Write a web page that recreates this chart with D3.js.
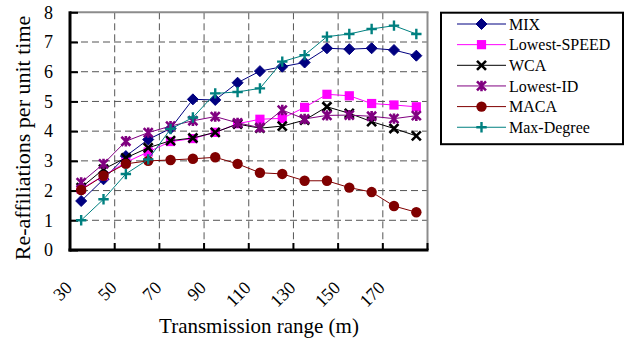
<!DOCTYPE html>
<html>
<head>
<meta charset="utf-8">
<script src="https://cdn.jsdelivr.net/npm/d3@7"></script>
<style>
  html, body { margin: 0; padding: 0; background: #fff; }
  svg text { font-family: 'Liberation Serif', serif; }
</style>
</head>
<body>
<svg id="chart" width="631" height="345"></svg>
<script>
// ---- data ----
const categories = [30, 40, 50, 60, 70, 80, 90, 100, 110, 120, 130, 140, 150, 160, 170, 180];
const tickLabels = [30, 50, 70, 90, 110, 130, 150, 170];
const yTicks = [0, 1, 2, 3, 4, 5, 6, 7, 8];
const seriesNames = ["MIX", "Lowest-SPEED", "WCA", "Lowest-ID", "MACA", "Max-Degree"];
const mix        = [1.65, 2.38, 3.16, 3.72, 4.09, 5.07, 5.05, 5.63, 6.02, 6.17, 6.31, 6.79, 6.76, 6.79, 6.73, 6.54];
const lowestSpeed= [2.05, 2.50, 2.95, 3.30, 3.65, 3.75, 3.96, 4.25, 4.40, 4.43, 4.80, 5.24, 5.19, 4.93, 4.88, 4.82];
const wca        = [2.10, 2.72, 3.10, 3.44, 3.68, 3.77, 3.96, 4.24, 4.10, 4.17, 4.37, 4.82, 4.60, 4.32, 4.09, 3.84];
const lowestId   = [2.27, 2.90, 3.66, 3.95, 4.17, 4.35, 4.49, 4.28, 4.12, 4.71, 4.41, 4.53, 4.54, 4.50, 4.42, 4.52];
const maca       = [2.02, 2.50, 2.90, 3.00, 3.03, 3.07, 3.12, 2.90, 2.60, 2.56, 2.33, 2.33, 2.10, 1.95, 1.48, 1.27];
const maxDegree  = [1.00, 1.71, 2.56, 3.05, 4.07, 4.46, 5.27, 5.32, 5.44, 6.34, 6.56, 7.18, 7.27, 7.44, 7.55, 7.27];

const seriesValues = [mix, lowestSpeed, wca, lowestId, maca, maxDegree];
const colors  = ["#000080", "#FF00FF", "#000000", "#800080", "#800000", "#008080"];
const markers = ["diamond", "square", "x", "star", "circle", "plus"];

const FONT = "'Liberation Serif', serif";

// ---- layout ----
const svg = d3.select("#chart");
const L = 70, R = 427.5, T = 12.3, B = 250;

const x = d3.scaleBand().domain(categories).range([L, R]).padding(0);
const y = d3.scaleLinear().domain([0, 8]).range([B, T]);

// gridlines
const grid = svg.append("g");
grid.selectAll("line.h").data(yTicks.filter(v => v > 0 && v < 8)).join("line")
  .attr("x1", L).attr("x2", R)
  .attr("y1", d => y(d)).attr("y2", d => y(d))
  .attr("stroke", "#555").attr("stroke-width", 1).attr("stroke-dasharray", "7,4");
const vIdx = d3.range(2, categories.length, 2);
grid.selectAll("line.v").data(vIdx).join("line")
  .attr("x1", d => x(categories[d])).attr("x2", d => x(categories[d]))
  .attr("y1", T).attr("y2", B)
  .attr("stroke", "#555").attr("stroke-width", 1).attr("stroke-dasharray", "7,4");

// plot border (top/right gray)
svg.append("line").attr("x1", L).attr("x2", R + 1).attr("y1", T).attr("y2", T)
  .attr("stroke", "#8c8c8c").attr("stroke-width", 2);
svg.append("line").attr("x1", R).attr("x2", R).attr("y1", T).attr("y2", B)
  .attr("stroke", "#8c8c8c").attr("stroke-width", 2);

// y axis
const yAxis = d3.axisLeft(y).tickValues(yTicks).tickSize(-8).tickPadding(17).tickFormat(d3.format("d"));
const gy = svg.append("g").attr("transform", `translate(${L},0)`).call(yAxis)
  .attr("font-family", FONT).attr("font-size", 18);
gy.select(".domain").remove();
gy.selectAll(".tick line").attr("stroke", "#000").attr("stroke-width", 2);
gy.selectAll(".tick text").attr("fill", "#000").style("font-family", FONT).style("font-size", "18px");
svg.append("line").attr("x1", L).attr("x2", L).attr("y1", T - 1).attr("y2", B + 1.5)
  .attr("stroke", "#000").attr("stroke-width", 3);

// x axis
const xAxis = d3.axisBottom(x).tickValues(tickLabels).tickSize(0).tickPadding(0);
const gx = svg.append("g").attr("transform", `translate(0,${B})`).call(xAxis)
  .attr("font-family", FONT).attr("font-size", 18);
gx.select(".domain").remove();
gx.selectAll(".tick text")
  .attr("fill", "#000").style("font-family", FONT).style("font-size", "18px")
  .attr("text-anchor", "end").attr("dy", null).attr("y", null)
  .attr("transform", "translate(-8,39) rotate(-45)");
svg.append("line").attr("x1", L - 1.5).attr("x2", R + 1).attr("y1", B).attr("y2", B)
  .attr("stroke", "#000").attr("stroke-width", 3);
const xTickPos = vIdx.map(i => x(categories[i])).concat([R]);
svg.append("g").selectAll("line").data(xTickPos).join("line")
  .attr("x1", d => d).attr("x2", d => d).attr("y1", B).attr("y2", B - 7)
  .attr("stroke", "#000").attr("stroke-width", 2);

// axis titles
svg.append("text").attr("x", 259).attr("y", 333).attr("text-anchor", "middle")
  .style("font-family", FONT).style("font-size", "21px").text("Transmission range (m)");
svg.append("text").attr("transform", "translate(30,138) rotate(-90)").attr("text-anchor", "middle")
  .style("font-family", FONT).style("font-size", "22px").text("Re-affiliations per unit time");

// marker drawing
function drawMarker(g, type, color) {
  const s = 4.5;
  if (type === "diamond") {
    g.append("path").attr("d", `M0,${-5.5}L5.5,0L0,5.5L-5.5,0Z`).attr("fill", color).attr("stroke", color);
  } else if (type === "square") {
    g.append("rect").attr("x", -4.6).attr("y", -4.6).attr("width", 9.2).attr("height", 9.2).attr("fill", color);
  } else if (type === "x") {
    g.append("path").attr("d", `M${-s},${-s}L${s},${s}M${-s},${s}L${s},${-s}`)
      .attr("stroke", color).attr("stroke-width", 2.6).attr("fill", "none");
  } else if (type === "star") {
    g.append("path").attr("d", `M${-s},${-s}L${s},${s}M${-s},${s}L${s},${-s}M0,${-5.2}L0,5.2`)
      .attr("stroke", color).attr("stroke-width", 2.6).attr("fill", "none");
  } else if (type === "circle") {
    g.append("circle").attr("r", 5.2).attr("fill", color);
  } else if (type === "plus") {
    g.append("path").attr("d", `M-5.2,0L5.2,0M0,-5.2L0,5.2`)
      .attr("stroke", color).attr("stroke-width", 2.4).attr("fill", "none");
  }
}

// series
const line = d3.line().x((d, i) => x(categories[i]) + x.bandwidth() / 2).y(d => y(d));
seriesValues.forEach((vals, si) => {
  const g = svg.append("g");
  g.append("path").attr("d", line(vals)).attr("fill", "none")
    .attr("stroke", colors[si]).attr("stroke-width", 1);
  vals.forEach((v, i) => {
    const mg = g.append("g")
      .attr("transform", `translate(${x(categories[i]) + x.bandwidth() / 2},${y(v)})`);
    drawMarker(mg, markers[si], colors[si]);
  });
});

// legend
const lg = svg.append("g");
lg.append("rect").attr("x", 441).attr("y", 12.7).attr("width", 182).attr("height", 131.5)
  .attr("fill", "#fff").attr("stroke", "#000").attr("stroke-width", 2);
seriesNames.forEach((name, i) => {
  const cy = 24 + i * 20.65;
  lg.append("line").attr("x1", 457).attr("x2", 506).attr("y1", cy).attr("y2", cy)
    .attr("stroke", colors[i]).attr("stroke-width", 1);
  const mg = lg.append("g").attr("transform", `translate(481.5,${cy})`);
  drawMarker(mg, markers[i], colors[i]);
  lg.append("text").attr("x", 509).attr("y", cy).attr("dy", "0.35em")
    .style("font-family", FONT).style("font-size", "16px").text(name);
});
</script>
</body>
</html>
